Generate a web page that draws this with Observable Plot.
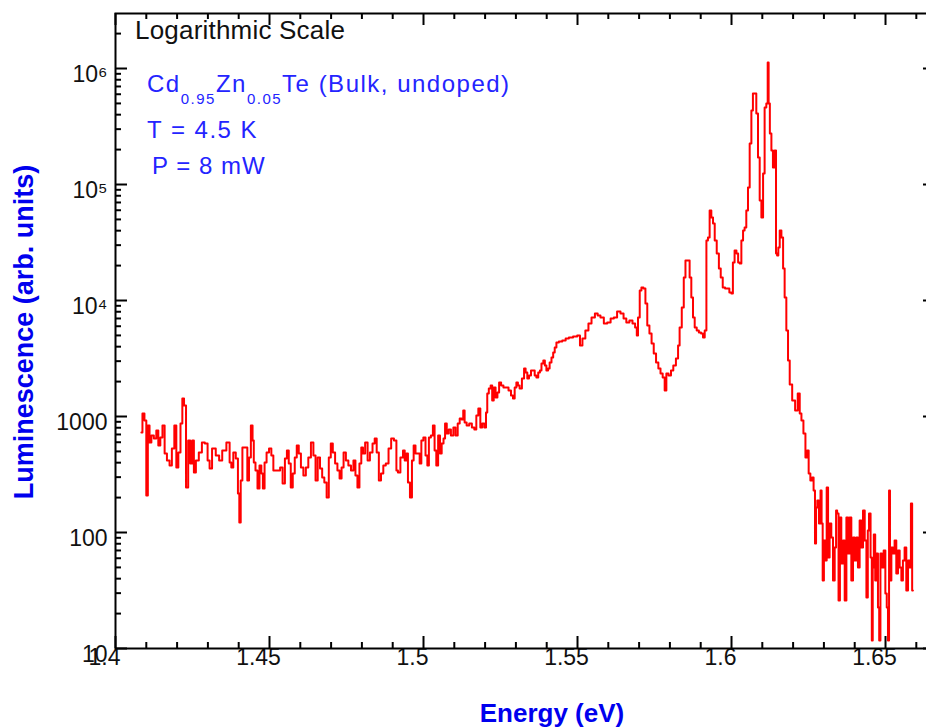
<!DOCTYPE html>
<html>
<head>
<meta charset="utf-8">
<script src="https://cdn.jsdelivr.net/npm/d3@7"></script>
<script src="https://cdn.jsdelivr.net/npm/@observablehq/plot@0.6"></script>
<style>
  html, body { margin: 0; padding: 0; background: #fff; overflow: hidden; }
  #chart { width: 926px; height: 727px; overflow: hidden; }
  #chart svg { overflow: hidden; }
</style>
</head>
<body>
<div id="chart"></div>
<script>
// Photoluminescence spectrum of bulk, undoped Cd0.95Zn0.05Te at 4.5 K
const energyEV = [
  1.4084, 1.4091, 1.4097, 1.4103, 1.4107, 1.4114, 1.4119, 1.4130, 1.4135, 1.4143,
  1.4148, 1.4157, 1.4162, 1.4172, 1.4179, 1.4187, 1.4195, 1.4200, 1.4208, 1.4214,
  1.4220, 1.4225, 1.4233, 1.4239, 1.4246, 1.4252, 1.4257, 1.4265, 1.4276, 1.4285,
  1.4295, 1.4303, 1.4308, 1.4319, 1.4332, 1.4341, 1.4352, 1.4368, 1.4373, 1.4379,
  1.4386, 1.4395, 1.4400, 1.4404, 1.4409, 1.4415, 1.4425, 1.4431, 1.4436, 1.4443,
  1.4447, 1.4451, 1.4458, 1.4464, 1.4471, 1.4476, 1.4481, 1.4487, 1.4494, 1.4503,
  1.4509, 1.4516, 1.4530, 1.4539, 1.4546, 1.4554, 1.4559, 1.4566, 1.4572, 1.4579,
  1.4585, 1.4592, 1.4598, 1.4606, 1.4614, 1.4622, 1.4630, 1.4639, 1.4646, 1.4653,
  1.4660, 1.4668, 1.4674, 1.4682, 1.4689, 1.4696, 1.4702, 1.4709, 1.4717, 1.4724,
  1.4731, 1.4737, 1.4744, 1.4752, 1.4760, 1.4769, 1.4776, 1.4782, 1.4789, 1.4795,
  1.4801, 1.4806, 1.4815, 1.4822, 1.4830, 1.4839, 1.4844, 1.4852, 1.4858, 1.4866,
  1.4873, 1.4882, 1.4891, 1.4899, 1.4909, 1.4915, 1.4919, 1.4931, 1.4936, 1.4942,
  1.4947, 1.4952, 1.4960, 1.4965, 1.4971, 1.4977, 1.4985, 1.4990, 1.4996, 1.5003,
  1.5010, 1.5015, 1.5020, 1.5028, 1.5033, 1.5039, 1.5044, 1.5051, 1.5056, 1.5062,
  1.5068, 1.5072, 1.5079, 1.5085, 1.5093, 1.5101, 1.5107, 1.5115, 1.5120, 1.5127,
  1.5131, 1.5136, 1.5144, 1.5153, 1.5161, 1.5169, 1.5174, 1.5182, 1.5187, 1.5194,
  1.5201, 1.5205, 1.5209, 1.5215, 1.5221, 1.5225, 1.5231, 1.5237, 1.5243, 1.5248,
  1.5256, 1.5263, 1.5272, 1.5280, 1.5288, 1.5293, 1.5299, 1.5304, 1.5309, 1.5315,
  1.5324, 1.5329, 1.5334, 1.5340, 1.5345, 1.5353, 1.5358, 1.5364, 1.5369, 1.5376,
  1.5380, 1.5386, 1.5392, 1.5396, 1.5402, 1.5407, 1.5412, 1.5419, 1.5423, 1.5429,
  1.5434, 1.5445, 1.5456, 1.5467, 1.5477, 1.5494, 1.5504, 1.5512, 1.5520, 1.5531,
  1.5540, 1.5551, 1.5562, 1.5569, 1.5580, 1.5591, 1.5602, 1.5613, 1.5623, 1.5634,
  1.5645, 1.5654, 1.5663, 1.5674, 1.5683, 1.5691, 1.5694, 1.5699, 1.5705, 1.5710,
  1.5718, 1.5723, 1.5730, 1.5737, 1.5744, 1.5751, 1.5759, 1.5766, 1.5773, 1.5780,
  1.5786, 1.5791, 1.5800, 1.5807, 1.5815, 1.5824, 1.5829, 1.5834, 1.5843, 1.5847,
  1.5854, 1.5861, 1.5867, 1.5872, 1.5878, 1.5883, 1.5891, 1.5897, 1.5905, 1.5910,
  1.5916, 1.5921, 1.5926, 1.5932, 1.5937, 1.5943, 1.5948, 1.5956, 1.5962, 1.5968,
  1.5975, 1.5983, 1.5989, 1.5997, 1.6002, 1.6007, 1.6013, 1.6019, 1.6024, 1.6029,
  1.6035, 1.6040, 1.6045, 1.6051, 1.6056, 1.6062, 1.6067, 1.6072, 1.6078, 1.6083,
  1.6089, 1.6094, 1.6100, 1.6105, 1.6110, 1.6116, 1.6119, 1.6122, 1.6127, 1.6132,
  1.6137, 1.6143, 1.6146, 1.6150, 1.6154, 1.6159, 1.6165, 1.6170, 1.6175, 1.6181,
  1.6186, 1.6192, 1.6202, 1.6211, 1.6219, 1.6224, 1.6230, 1.6237, 1.6243, 1.6248,
  1.6253, 1.6259, 1.6264, 1.6269, 1.6273, 1.6276, 1.6281, 1.6287, 1.6291, 1.6294,
  1.6298, 1.6302, 1.6307, 1.6311, 1.6316, 1.6321, 1.6327, 1.6332, 1.6338, 1.6341,
  1.6345, 1.6350, 1.6354, 1.6359, 1.6365, 1.6370, 1.6376, 1.6381, 1.6386, 1.6392,
  1.6397, 1.6403, 1.6408, 1.6413, 1.6419, 1.6424, 1.6430, 1.6435, 1.6441, 1.6444,
  1.6449, 1.6454, 1.6457, 1.6460, 1.6464, 1.6469, 1.6473, 1.6478, 1.6481, 1.6486,
  1.6491, 1.6497, 1.6502, 1.6506, 1.6510, 1.6513, 1.6516, 1.6522, 1.6527, 1.6532,
  1.6538, 1.6543, 1.6549, 1.6554, 1.6559, 1.6565, 1.6570, 1.6576, 1.6581, 1.6584,
  1.6589
];

const luminescence = [
  728, 1061, 923, 208, 836, 597, 686, 646, 757, 562,
  659, 836, 480, 417, 378, 530, 836, 363, 489, 870,
  1430, 1243, 244, 621, 393, 621, 329, 417, 489, 597,
  585, 417, 356, 530, 461, 417, 509, 597, 401, 363,
  489, 434, 217, 122, 281, 540, 540, 281, 443, 836,
  621, 401, 342, 239, 378, 322, 239, 401, 489, 530,
  461, 342, 342, 363, 264, 434, 509, 393, 244, 322,
  443, 562, 480, 363, 310, 363, 443, 597, 461, 281,
  443, 356, 298, 270, 200, 443, 585, 489, 393, 342,
  292, 363, 489, 417, 378, 342, 417, 310, 244, 393,
  540, 480, 597, 417, 489, 585, 646, 489, 281, 322,
  378, 393, 530, 646, 621, 342, 329, 443, 509, 417,
  480, 270, 200, 417, 562, 480, 480, 393, 621, 659,
  461, 378, 659, 686, 836, 509, 378, 686, 480, 585,
  646, 870, 713, 772, 686, 804, 686, 870, 960, 942,
  1126, 888, 836, 870, 804, 772, 1020, 1171, 804, 870,
  804, 1082, 1578, 1743, 1850, 1374, 1778, 1457, 1609, 1963,
  1850, 1778, 1778, 1676, 1517, 1430, 1778, 1963, 1850, 1743,
  2125, 2592, 2393, 2125, 2256, 2490, 2490, 2256, 2167, 2393,
  2490, 2863, 3040, 2752, 2490, 2592, 2920, 3220, 3560, 3930,
  4340, 4432, 4520, 4700, 4800, 4894, 4990, 4090, 4700, 5510,
  6330, 7130, 7720, 7420, 7130, 6330, 6460, 6990, 7130, 8040,
  7720, 6990, 6460, 6720, 6330, 5850, 4990, 7130, 12190, 12930,
  12680, 9420, 6090, 5190, 4260, 3490, 2920, 2592, 2347, 2167,
  1676, 2347, 2256, 2490, 2752, 3160, 4090, 5850, 8700, 15780,
  22120, 22120, 15780, 10610, 7130, 5850, 5510, 5300, 5190, 4800,
  5510, 32910, 34900, 59680, 51900, 46100, 32910, 25400, 18870, 15780,
  12930, 12680, 12680, 11710, 11480, 21250, 26980, 25400, 21250, 20830,
  32910, 40130, 42600, 59680, 94200, 225600, 434000, 609000, 609000, 409000,
  170900, 72790, 51900, 124300, 461000, 499000, 1126000, 499000, 275200, 196300,
  140100, 196300, 25400, 24430, 28630, 40130, 34900, 18870, 10610, 5510,
  3040, 1887, 1374, 1126, 1578, 1061, 923, 713, 443, 509,
  322, 281, 298, 230, 80.4, 164, 189, 119.5, 230, 119.5,
  38.6, 85.3, 57.3, 244, 60.9, 119.5, 90.5, 38.6, 74.2, 155,
  146, 25.9, 135, 54.0, 85.3, 25.9, 135, 65.9, 135, 38.6,
  90.5, 57.3, 90.5, 49.9, 127, 74.2, 155, 85.3, 27.5, 104,
  146, 60.9, 11.7, 49.9, 96.0, 38.6, 65.9, 22.6, 11.7, 65.9,
  49.9, 69.9, 29.8, 22.6, 11.7, 230, 38.6, 74.2, 65.9, 85.3,
  44.3, 69.9, 49.9, 38.6, 57.3, 74.2, 31.6, 57.3, 49.9, 178,
  31.6
];

// Axis ticks and their labels
const xMajorTicks = [1.4, 1.45, 1.5, 1.55, 1.6, 1.65];
const xTickLabels = ["1.4", "1.45", "1.5", "1.55", "1.6", "1.65"];
const xMinorTicks = [1.41, 1.42, 1.43, 1.44, 1.46, 1.47, 1.48, 1.49, 1.51, 1.52, 1.53, 1.54,
                     1.56, 1.57, 1.58, 1.59, 1.61, 1.62, 1.63, 1.64, 1.66];
const yMajorTicks = [10, 100, 1000, 1e4, 1e5, 1e6];
const yTickLabels = ["10", "100", "1000", "10\u2074", "10\u2075", "10\u2076"];
const yMinorTicks = [20, 30, 40, 50, 60, 70, 80, 90,
                     200, 300, 400, 500, 600, 700, 800, 900,
                     2000, 3000, 4000, 5000, 6000, 7000, 8000, 9000,
                     2e4, 3e4, 4e4, 5e4, 6e4, 7e4, 8e4, 9e4,
                     2e5, 3e5, 4e5, 5e5, 6e5, 7e5, 8e5, 9e5,
                     2e6];

const spectrum = energyEV.map((e, i) => ({energy: e, counts: luminescence[i]}));

// Frame size, used to turn full-frame tick rules into short inward ticks
const W = 926, H = 727;
const M = {top: 13, right: -9, bottom: 79, left: 115};
const frameW = W - M.left - M.right;
const frameH = H - M.top - M.bottom;
const major = 12, minor = 6;

const chart = Plot.plot({
  width: W,
  height: H,
  marginTop: M.top,
  marginRight: M.right,
  marginBottom: M.bottom,
  marginLeft: M.left,
  style: {fontFamily: "'Liberation Sans', Arial, sans-serif", fontSize: "23px", background: "#fff", color: "#111"},
  x: {domain: [1.4, 1.66623], axis: null},
  y: {type: "log", domain: [10, 2.98e6], axis: null},
  marks: [
    // bottom ticks
    Plot.tickX(xMajorTicks, {x: d => d, insetTop: frameH - major, stroke: "#000", strokeWidth: 2}),
    Plot.tickX(xMinorTicks, {x: d => d, insetTop: frameH - minor, stroke: "#000", strokeWidth: 2}),
    // top ticks
    Plot.tickX(xMajorTicks, {x: d => d, insetBottom: frameH - major, stroke: "#000", strokeWidth: 2}),
    Plot.tickX(xMinorTicks, {x: d => d, insetBottom: frameH - minor, stroke: "#000", strokeWidth: 2}),
    // left ticks
    Plot.tickY(yMajorTicks, {y: d => d, insetRight: frameW - major, stroke: "#000", strokeWidth: 2}),
    Plot.tickY(yMinorTicks, {y: d => d, insetRight: frameW - minor, stroke: "#000", strokeWidth: 2}),
    // right ticks
    Plot.tickY(yMajorTicks, {y: d => d, insetLeft: frameW - major, stroke: "#000", strokeWidth: 2}),
    Plot.tickY(yMinorTicks, {y: d => d, insetLeft: frameW - minor, stroke: "#000", strokeWidth: 2}),
    // tick labels
    Plot.text(xMajorTicks, {x: d => d, text: (d, i) => xTickLabels[i], frameAnchor: "bottom", dy: 16, dx: -11, fill: "#111", fontSize: 23}),
    Plot.text(yMajorTicks, {y: d => d, text: (d, i) => yTickLabels[i], frameAnchor: "left", textAnchor: "end", dx: -8, dy: 6, fill: "#111", fontSize: 23}),
    // spectrum
    Plot.line(spectrum, {x: "energy", y: "counts", stroke: "#ff0000", strokeWidth: 2, curve: "step"}),
    Plot.frame({stroke: "#000", strokeWidth: 2})
  ]
});

document.getElementById("chart").append(chart);

// Annotations and axis titles
const svg = d3.select(chart);
const blue = "#2424ff";

svg.append("text")
  .attr("x", 135).attr("y", 39)
  .attr("text-anchor", "start")
  .attr("font-size", 26).attr("fill", "#111")
  .attr("letter-spacing", 0.2)
  .text("Logarithmic Scale");

const formula = svg.append("text")
  .attr("x", 147).attr("y", 92)
  .attr("text-anchor", "start")
  .attr("font-size", 24).attr("fill", blue)
  .attr("letter-spacing", 1.5);
formula.append("tspan").text("Cd");
formula.append("tspan").attr("font-size", 15).attr("dy", 12).text("0.95");
formula.append("tspan").attr("dy", -12).text("Zn");
formula.append("tspan").attr("font-size", 15).attr("dy", 12).text("0.05");
formula.append("tspan").attr("dy", -12).text("Te (Bulk, undoped)");

svg.append("text")
  .attr("x", 147).attr("y", 138)
  .attr("text-anchor", "start")
  .attr("font-size", 24).attr("fill", blue).attr("letter-spacing", 1.5)
  .text("T = 4.5 K");

svg.append("text")
  .attr("x", 152).attr("y", 174)
  .attr("text-anchor", "start")
  .attr("font-size", 24).attr("fill", blue).attr("letter-spacing", 1.0)
  .text("P = 8 mW");

svg.append("text")
  .attr("x", 552).attr("y", 722)
  .attr("text-anchor", "middle")
  .attr("font-size", 26).attr("font-weight", "bold").attr("fill", "#0000ee")
  .text("Energy (eV)");

svg.append("text")
  .attr("transform", "translate(33,332) rotate(-90)")
  .attr("text-anchor", "middle")
  .attr("font-size", 27).attr("font-weight", "bold").attr("fill", "#0000ee")
  .text("Luminescence (arb. units)");
</script>
</body>
</html>
